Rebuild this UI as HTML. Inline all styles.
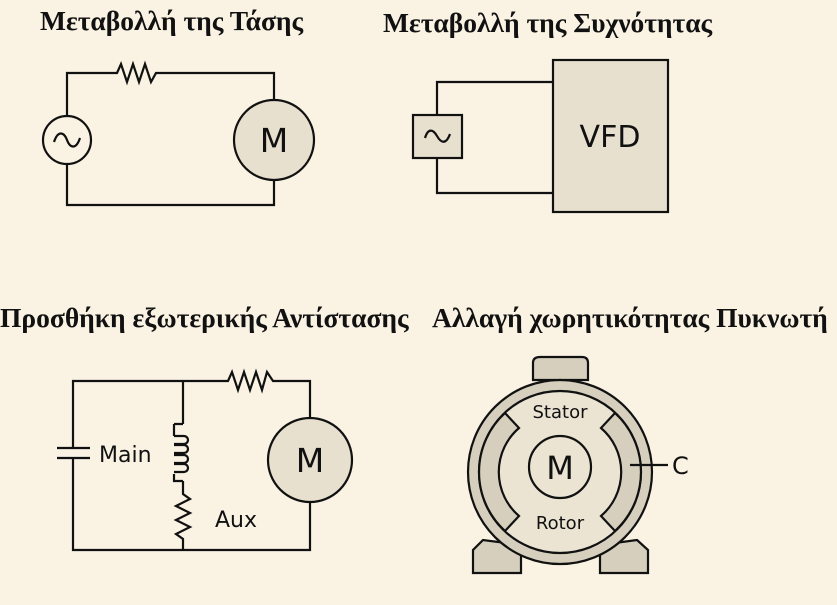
<!DOCTYPE html>
<html><head><meta charset="utf-8"><style>
html,body{margin:0;padding:0;background:#faf3e4;}
svg{display:block}
.t{font-family:"Liberation Serif",serif;font-weight:bold;font-size:27.5px;fill:#111}
.s{font-family:"DejaVu Sans","Liberation Sans",sans-serif;fill:#111}
</style></head><body>
<svg width="837" height="605" viewBox="0 0 837 605" xmlns="http://www.w3.org/2000/svg">
<rect width="837" height="605" fill="#faf3e4"/>
<text class="t" x="40" y="30">Μεταβολλή της Τάσης</text>
<text class="t" x="383" y="32">Μεταβολλή της Συχνότητας</text>
<text class="t" x="0" y="327">Προσθήκη εξωτερικής Αντίστασης</text>
<text class="t" x="432" y="327">Αλλαγή χωρητικότητας Πυκνωτή</text>
<g fill="none" stroke="#111" stroke-width="2.2">
<path d="M67 116 V73 H117 L121 64 L127 82 L133 64 L139 82 L145 64 L151 82 L156 73 H274 V100"/>
<path d="M67 164 V205 H274 V180"/>
<circle cx="67" cy="140" r="24" fill="#faf3e4"/>
<path d="M54 142 C58 130 64 132 67 140 C70 148 76 150 80 138"/>
<circle cx="274" cy="140" r="40" fill="#e8e0cf"/>
<rect x="413" y="115" width="49" height="43" fill="#e8e0cf"/>
<path d="M425 138 C428 128 433 129 437 136 C441 143 446 145 450 134"/>
<path d="M437 115 V82 H553 M437 158 V193 H553"/>
<rect x="553" y="60" width="115" height="152" fill="#e8e0cf"/>
<path d="M73 448 V381 H228 L232 372 L238 390 L244 372 L250 390 L256 372 L262 390 L267 372 L273 381 H310 V418"/>
<path d="M73 458 V550 H310 V502"/>
<path d="M57 448 H90 M57 458 H90"/>
<path d="M183 381 V424 M183 481 V494 L190 499 L176 506 L190 513 L176 520 L190 527 L176 534 L183 539 V550"/>
<path d="M174 424 V436 M174 474 V481 H183 M174 424 H183"/>
<path d="M174 436 h10 a4 4 0 0 1 0 8 h-10 M174 445 h10 a4 4 0 0 1 0 8 h-10 M174 455 h10 a4 4 0 0 1 0 8 h-10 M174 464 h10 a4 4 0 0 1 0 8 h-10"/>
<circle cx="310" cy="460" r="42" fill="#e8e0cf"/>
<path d="M533 380 V363 Q533 357 540 357 H582 Q588 357 588 363 V380 Z" fill="#d6cfbd"/>
<path d="M483 540 L473 550 V573 H521 V545 Z" fill="#d6cfbd"/>
<path d="M637 540 L648 550 V573 H600 V545 Z" fill="#d6cfbd"/>
<circle cx="560" cy="472" r="92" fill="#d6cfbd"/>
<circle cx="560" cy="472" r="81" fill="#ebe4d3"/>
<path d="M505 413 L519 428 A58 58 0 0 0 519 516 L505 531 A80 80 0 0 1 505 413 Z" fill="#d6cfbd"/>
<path d="M615 413 L601 428 A58 58 0 0 1 601 516 L615 531 A80 80 0 0 0 615 413 Z" fill="#d6cfbd"/>
<circle cx="560" cy="467" r="31" fill="#ebe4d3"/>
<path d="M630 465 H668"/>
</g>
<text class="s" x="274" y="152" font-size="33" text-anchor="middle">M</text>
<text class="s" x="610" y="147" font-size="30" text-anchor="middle">VFD</text>
<text class="s" x="99" y="462" font-size="22">Main</text>
<text class="s" x="215" y="527" font-size="22">Aux</text>
<text class="s" x="310" y="472" font-size="33" text-anchor="middle">M</text>
<text class="s" x="560" y="418" font-size="18" text-anchor="middle">Stator</text>
<text class="s" x="560" y="529" font-size="18" text-anchor="middle">Rotor</text>
<text class="s" x="560" y="479" font-size="32" text-anchor="middle">M</text>
<text class="s" x="672" y="474" font-size="24">C</text>
</svg>
</body></html>
